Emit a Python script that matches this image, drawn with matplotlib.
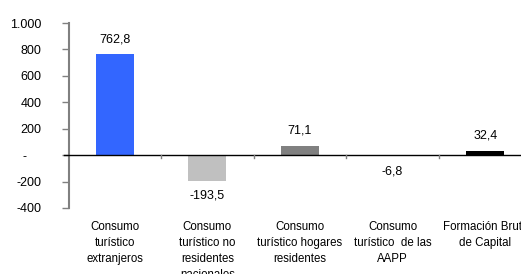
import matplotlib

matplotlib.use("Agg")
import matplotlib.pyplot as plt
import matplotlib.transforms as mtransforms

plt.rcParams["font.family"] = ["Liberation Sans", "DejaVu Sans"]

# ── Data ──
categories = [
    "Consumo\nturístico\nextranjeros",
    "Consumo\nturístico no\nresidentes\nnacionales",
    "Consumo\nturístico hogares\nresidentes",
    "Consumo\nturístico  de las\nAAPP",
    "Formación Bruta\nde Capital",
]
values = [762.8, -193.5, 71.1, -6.8, 32.4]
value_labels = ["762,8", "-193,5", "71,1", "-6,8", "32,4"]
bar_colors = ["#3366FF", "#C0C0C0", "#808080", "#C0C0C0", "#000000"]
y_ticks = [-400, -200, 0, 200, 400, 600, 800, 1000]
y_tick_labels = ["-400", "-200", "-    ", "200", "400", "600", "800", "1.000"]

fig = plt.figure(figsize=(5.21, 2.74), dpi=100)
ax = fig.add_axes([68.5 / 521, 1 - 208 / 274, 463 / 521, 185 / 274])

x = list(range(len(values)))
ax.bar(x, values, width=0.41, color=bar_colors, zorder=2)

ax.set_xlim(-0.5, len(values) - 0.5)
ax.set_ylim(-400, 1000)

# value labels above / below bars
for xi, v, lab in zip(x, values, value_labels):
    off = 11 if v >= 0 else -11
    ax.annotate(lab, (xi, v), xytext=(0, off), textcoords="offset points",
                ha="center", va="center", fontsize=9, color="black")

# y axis
ax.set_yticks(y_ticks)
ax.set_yticklabels(y_tick_labels, fontsize=9)
ax.tick_params(axis="y", length=5, width=1, color="#808080", pad=14.5)
ax.spines["left"].set_color("#808080")
ax.spines["left"].set_linewidth(1.5)
for side in ["top", "right", "bottom"]:
    ax.spines[side].set_visible(False)

# zero line with category boundary ticks
ax.axhline(0, xmin=-0.01, color="black", linewidth=1, zorder=3, clip_on=False)
ax.set_xticks([i + 0.5 for i in x[:-1]])
ax.set_xticklabels([])
ax.tick_params(axis="x", length=0)
for b in [i + 0.5 for i in x[:-1]]:
    ax.plot([b, b], [0, -22], color="#808080", linewidth=1, zorder=3)

# category labels under the axis
trans = mtransforms.blended_transform_factory(ax.transData, ax.transAxes)
for xi, cat in zip(x, categories):
    ax.text(xi, -0.07, cat, transform=trans, ha="center", va="top",
            fontsize=8.3, linespacing=1.45, clip_on=False)

fig.savefig("out.png", dpi=100)
